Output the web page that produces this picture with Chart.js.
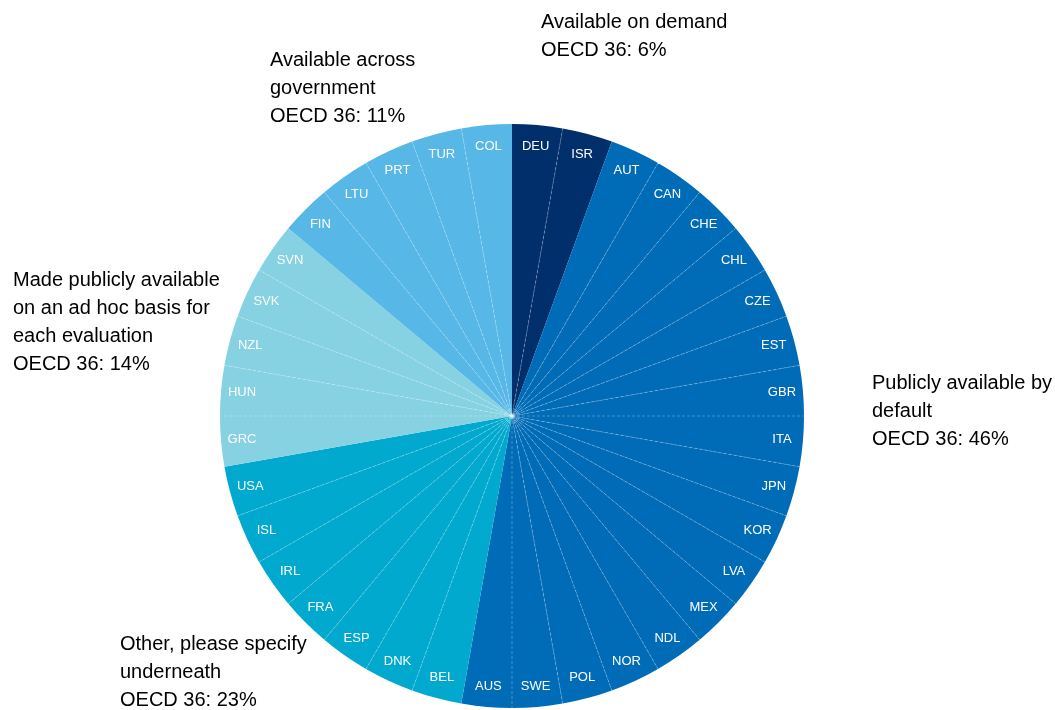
<!DOCTYPE html>
<html lang="en">
<head>
<meta charset="UTF-8">
<title>Evaluation results availability</title>
<script src="https://cdn.jsdelivr.net/npm/chart.js@4/dist/chart.umd.min.js"></script>
<style>
  * { margin: 0; padding: 0; box-sizing: border-box; }
  html, body { width: 1055px; height: 710px; background: #fff; overflow: hidden; }
  #wrap { position: relative; width: 1055px; height: 710px; }
</style>
</head>
<body>
<div id="wrap"><canvas id="pie"></canvas></div>
<script>
// Countries clockwise from 12 o'clock, with the category each one answered
const COUNTRIES = ['DEU', 'ISR',
  'AUT', 'CAN', 'CHE', 'CHL', 'CZE', 'EST', 'GBR', 'ITA', 'JPN', 'KOR', 'LVA', 'MEX', 'NDL', 'NOR', 'POL', 'SWE', 'AUS',
  'BEL', 'DNK', 'ESP', 'FRA', 'IRL', 'ISL', 'USA',
  'GRC', 'HUN', 'NZL', 'SVK', 'SVN',
  'FIN', 'LTU', 'PRT', 'TUR', 'COL'];
const GROUP_SIZES = [2, 17, 7, 5, 5];
const GROUP_COLORS = ['#002f6c', '#006bb6', '#00a9cd', '#86d1e2', '#57b7e6'];
const SHARES = COUNTRIES.map(() => 1);

// Category notes placed around the pie: [x, first line y, lines]
const NOTES = [
  [541, 22, ['Available on demand', 'OECD 36: 6%']],
  [872, 383, ['Publicly available by', 'default', 'OECD 36: 46%']],
  [120, 644, ['Other, please specify', 'underneath', 'OECD 36: 23%']],
  [13, 280, ['Made publicly available', 'on an ad hoc basis for', 'each evaluation', 'OECD 36: 14%']],
  [270, 60, ['Available across', 'government', 'OECD 36: 11%']],
];

const groupOf = [];
GROUP_SIZES.forEach((n, g) => { for (let i = 0; i < n; i++) groupOf.push(g); });
const sliceColors = groupOf.map(g => GROUP_COLORS[g]);

const FONT = '"Liberation Sans", Arial, sans-serif';

const pieDecor = {
  id: 'pieDecor',
  afterDatasetsDraw(chart) {
    const { ctx } = chart;
    const arcs = chart.getDatasetMeta(0).data;
    ctx.save();
    // faint dashed dividers between countries of the same category
    ctx.strokeStyle = 'rgba(255,255,255,0.38)';
    ctx.lineWidth = 0.7;
    ctx.setLineDash([3, 2]);
    arcs.forEach((a, i) => {
      if (i === 0 || groupOf[i] !== groupOf[i - 1]) return;
      const { x, y, startAngle, outerRadius } = a.getProps(['x', 'y', 'startAngle', 'outerRadius'], true);
      ctx.beginPath();
      ctx.moveTo(x, y);
      ctx.lineTo(x + Math.cos(startAngle) * outerRadius, y + Math.sin(startAngle) * outerRadius);
      ctx.stroke();
    });
    ctx.setLineDash([]);
    // country codes near the rim
    ctx.fillStyle = '#fff';
    ctx.font = '13px ' + FONT;
    ctx.textAlign = 'center';
    ctx.textBaseline = 'middle';
    arcs.forEach((a, i) => {
      const { x, y, startAngle, endAngle, outerRadius } = a.getProps(['x', 'y', 'startAngle', 'endAngle', 'outerRadius'], true);
      const mid = (startAngle + endAngle) / 2;
      const r = outerRadius * 0.928;
      ctx.fillText(COUNTRIES[i], x + Math.cos(mid) * r, y + Math.sin(mid) * r);
    });
    // category notes
    ctx.fillStyle = '#000';
    ctx.font = '20px ' + FONT;
    ctx.textAlign = 'left';
    NOTES.forEach(([nx, ny, lines]) => {
      lines.forEach((t, k) => ctx.fillText(t, nx, ny + k * 28));
    });
    ctx.restore();
  }
};

new Chart(document.getElementById('pie'), {
  type: 'pie',
  data: {
    labels: COUNTRIES,
    datasets: [{
      data: SHARES,
      backgroundColor: sliceColors,
      borderWidth: 0,
    }]
  },
  options: {
    responsive: true,
    maintainAspectRatio: false,
    animation: false,
    layout: { padding: { top: 124, bottom: 2, left: 220, right: 251 } },
    plugins: { legend: { display: false }, tooltip: { enabled: false } },
  },
  plugins: [pieDecor],
});
</script>
</body>
</html>
